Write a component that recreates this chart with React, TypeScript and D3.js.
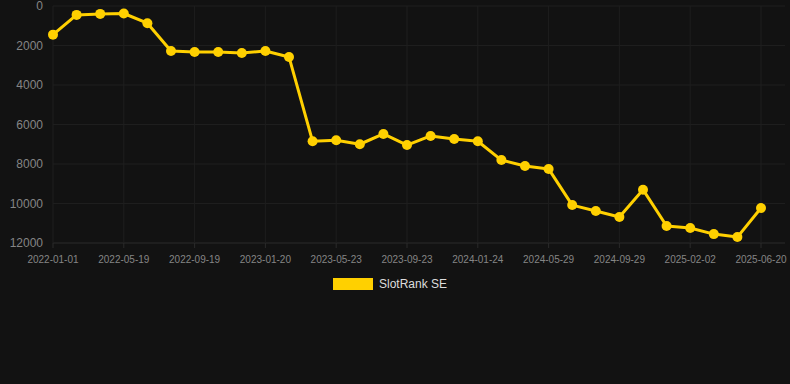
import React from "react";
import * as d3 from "d3";

const dates = [
  "2022-01-01", "2022-02-16", "2022-04-03", "2022-05-19", "2022-06-19", "2022-08-19",
  "2022-09-19", "2022-10-20", "2022-12-20", "2023-01-20", "2023-02-20", "2023-04-22",
  "2023-05-23", "2023-06-23", "2023-08-23", "2023-09-23", "2023-10-24", "2023-12-24",
  "2024-01-24", "2024-02-24", "2024-04-28", "2024-05-29", "2024-06-29", "2024-08-29",
  "2024-09-29", "2024-10-30", "2025-01-02", "2025-02-02", "2025-03-05", "2025-05-20",
  "2025-06-20",
];
const ranks = [
  1450, 450, 400, 380, 870, 2280, 2330, 2330, 2380, 2280, 2580, 6850,
  6800, 7000, 6480, 7040, 6580, 6730, 6850, 7800, 8100, 8250, 10080, 10380,
  10680, 9300, 11140, 11240, 11550, 11700, 10230,
];
const yTicks = [0, 2000, 4000, 6000, 8000, 10000, 12000];
const seriesName = "SlotRank SE";

const W = 790, H = 384;
const M = { left: 53, right: 761, top: 6, bottom: 243 };
const GRID = "#1e1e1e";
const AXIS = "#2a2a2a";
const TEXT = "#858585";
const GOLD = "#FFD000";

export default function App() {
  const x = d3.scalePoint<string>().domain(dates).range([M.left, M.right]);
  const y = d3.scaleLinear().domain([0, 12000]).range([M.top, M.bottom]);
  const line = d3.line<number>()
    .x((_, i) => x(dates[i])!)
    .y((d) => y(d));
  const labelDates = dates.filter((_, i) => i % 3 === 0);
  const font = "Arial, 'Liberation Sans', sans-serif";
  return (
    <svg width={W} height={H} style={{ position: "absolute", left: 0, top: 0, background: "#121212" }} fontFamily={font}>
      <rect x={0} y={0} width={W} height={H} fill="#121212" />
      {yTicks.map((t) => (
        <g key={t}>
          <line x1={M.left} x2={785} y1={y(t)} y2={y(t)} stroke={t === 12000 ? AXIS : GRID} strokeWidth={1} />
          <text x={43} y={y(t)} dy="0.35em" textAnchor="end" fill={TEXT} fontSize={12}>{t}</text>
        </g>
      ))}
      {labelDates.map((d) => (
        <g key={d}>
          <line x1={x(d)!} x2={x(d)!} y1={M.top} y2={M.bottom} stroke={GRID} strokeWidth={1} />
          <line x1={x(d)!} x2={x(d)!} y1={M.bottom} y2={M.bottom + 5} stroke={AXIS} strokeWidth={1} />
          <text x={x(d)!} y={259} dy="0.35em" textAnchor="middle" fill={TEXT} fontSize={10}>{d}</text>
        </g>
      ))}
      <path d={line(ranks)!} fill="none" stroke={GOLD} strokeWidth={3} strokeLinejoin="round" />
      {ranks.map((v, i) => (
        <circle key={i} cx={x(dates[i])!} cy={y(v)} r={5} fill={GOLD} />
      ))}
      <rect x={333} y={278} width={40} height={12} fill={GOLD} />
      <text x={379} y={284} dy="0.35em" fill="#dddddd" fontSize={12}>{seriesName}</text>
    </svg>
  );
}
